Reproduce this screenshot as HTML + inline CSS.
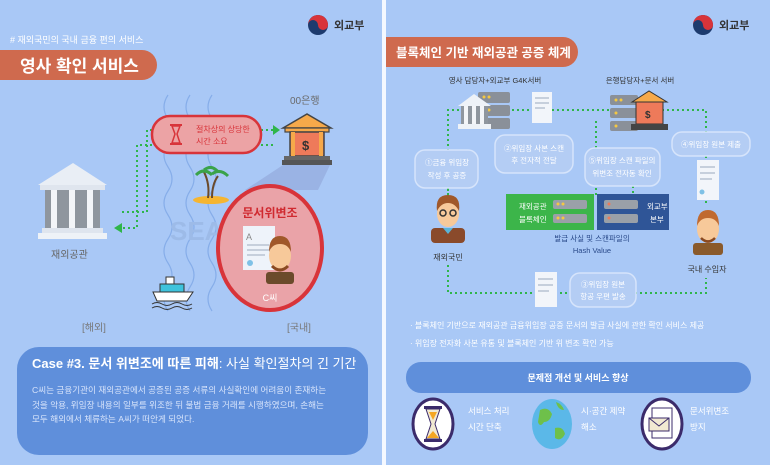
<!DOCTYPE html>
<html><head><meta charset="utf-8"><style>
html,body{margin:0;padding:0;background:#a9c8f6;}
svg{display:block}
text{font-family:"Liberation Sans","Noto Sans CJK KR",sans-serif;}
</style></head><body>
<svg width="770" height="465" viewBox="0 0 770 465" xmlns="http://www.w3.org/2000/svg">
<rect width="770" height="465" fill="#a9c8f6"/>
<rect x="382" y="0" width="4" height="465" fill="#f4f8ff"/>

<!-- ===== LEFT PANEL ===== -->
<g>
<circle cx="318" cy="25" r="10" fill="#1d3b6e"/>
<path d="M308,25 a10,10 0 0 1 20,0 a5,5 0 0 1 -10,0 a5,5 0 0 0 -10,0z" fill="#d8343a"/>
<text x="334" y="29" font-size="11" fill="#333" font-weight="bold">외교부</text>
</g>
<text x="10" y="43" font-size="9" fill="#fff">#  재외국민의 국내 금융 편의 서비스</text>
<path d="M0,50 H142 a15,15 0 0 1 0,30 H0z" fill="#cf6a4e"/>
<text x="20" y="72" font-size="17" fill="#fff" font-weight="bold">영사 확인 서비스</text>

<g fill="none" stroke="#7ea7e6" stroke-width="1.2" opacity="0.8">
<path d="M168,95 q-8,12 0,24 q8,12 0,24 q-8,12 0,24 q8,12 0,24 q-8,12 0,24 q8,12 0,24 q-8,12 0,24 q8,12 0,24 q-8,12 0,24"/>
<path d="M190,95 q-8,12 0,24 q8,12 0,24 q-8,12 0,24 q8,12 0,24 q-8,12 0,24 q8,12 0,24 q-8,12 0,24 q8,12 0,24 q-8,12 0,24"/>
<path d="M212,95 q-8,12 0,24 q8,12 0,24 q-8,12 0,24 q8,12 0,24 q-8,12 0,24 q8,12 0,24 q-8,12 0,24 q8,12 0,24 q-8,12 0,24"/>
</g>
<text x="170" y="240" font-size="26" fill="#9dbbe8" font-weight="bold">SEA</text>

<g fill="none" stroke="#2fb54a" stroke-width="2" stroke-dasharray="2,3">
<path d="M152,130 H147 V212 H120"/>
<path d="M152,145 H137 V228 H122"/>
<path d="M261,130 H274"/>
<path d="M261,145 H275"/>
</g>
<path d="M114,228 l8,-5 v10z" fill="#2fb54a"/>
<path d="M280,130 l-7,-5 v10z" fill="#2fb54a"/>

<rect x="152" y="116" width="109" height="37" rx="18" fill="#eca3a5" stroke="#d8343a" stroke-width="2.5"/>
<g fill="#d8343a"><rect x="170" y="124" width="12" height="2"/><rect x="170" y="143" width="12" height="2"/>
<path d="M172,126 h8 l-3,8 l3,9 h-8 l3,-9z" fill="none" stroke="#d8343a" stroke-width="1.5"/></g>
<text x="196" y="132" font-size="8" fill="#d8343a">절차상의 상당한</text>
<text x="196" y="144" font-size="8" fill="#d8343a">시간 소요</text>

<text x="290" y="104" font-size="10" fill="#6a6a6a">00은행</text>
<path d="M283,128 L307,114 L331,128z" fill="#f6a94a" stroke="#444" stroke-width="1.5"/>
<rect x="285" y="128" width="44" height="4" fill="#f6a94a" stroke="#444" stroke-width="1.2"/>
<rect x="290" y="132" width="34" height="24" fill="#ee7a5a" stroke="#444" stroke-width="1.5"/>
<rect x="291" y="132" width="4" height="24" fill="#f6a94a"/><rect x="319" y="132" width="4" height="24" fill="#f6a94a"/>
<text x="302" y="150" font-size="13" fill="#333" font-weight="bold">$</text>
<rect x="284" y="156" width="46" height="4" fill="#666"/><rect x="282" y="160" width="50" height="5" fill="#555"/>
<path d="M283,165 L330,165 L318,190 L245,190z" fill="#8ea2d6" opacity="0.55"/>

<path d="M38,185 L73,163 L107,185z" fill="#e9eef5"/>
<rect x="40" y="185" width="65" height="5" fill="#dfe5ee"/>
<rect x="45" y="190" width="55" height="38" fill="#8f969e"/>
<g fill="#f3f5f8"><rect x="51" y="190" width="6" height="38"/><rect x="69" y="190" width="6" height="38"/><rect x="87" y="190" width="6" height="38"/></g>
<rect x="42" y="228" width="61" height="5" fill="#dfe5ee"/><rect x="38" y="233" width="69" height="6" fill="#eef2f7"/>
<text x="51" y="258" font-size="10" fill="#666">재외공관</text>

<ellipse cx="211" cy="200" rx="18" ry="4" fill="#f5b531"/>
<path d="M208,198 q2,-14 -4,-26 M212,198 q0,-14 6,-22" stroke="#6b4a2b" stroke-width="2" fill="none"/>
<path d="M196,175 q8,-8 16,0 M204,170 q8,-6 14,2 M212,174 q8,-6 16,2" stroke="#3aa34a" stroke-width="3" fill="none"/>

<path d="M153,292 h40 l-6,9 h-30z" fill="#fff" stroke="#333" stroke-width="1"/>
<rect x="160" y="284" width="24" height="8" fill="#3ec3dc" stroke="#333" stroke-width="1"/>
<rect x="166" y="277" width="8" height="7" fill="#fff" stroke="#333" stroke-width="1"/>
<path d="M152,304 q5,-3 10,0 t10,0 t10,0 t10,0 M152,308 q5,-3 10,0 t10,0 t10,0 t10,0" stroke="#333" fill="none" stroke-width="1"/>

<ellipse cx="270" cy="248" rx="52" ry="62" fill="#eaa3a8" stroke="#d8343a" stroke-width="4"/>
<text x="270" y="217" font-size="12" fill="#d02a30" font-weight="bold" text-anchor="middle">문서위변조</text>
<rect x="243" y="226" width="32" height="44" fill="#eef3fa"/>
<text x="246" y="240" font-size="9" fill="#888">A</text>
<g fill="#c6cfdc"><rect x="247" y="244" width="22" height="2"/><rect x="247" y="249" width="22" height="2"/><rect x="247" y="254" width="18" height="2"/></g>
<circle cx="250" cy="263" r="3" fill="#7fc1e6"/>
<rect x="266" y="272" width="28" height="12" rx="3" fill="#6b4a2b"/>
<ellipse cx="280" cy="256" rx="11" ry="14" fill="#f7c99a"/>
<path d="M269,252 q0,-16 11,-16 q11,0 11,16 q-3,-8 -11,-8 q-8,0 -11,8z" fill="#a0582a"/>
<path d="M272,266 q8,8 16,0" stroke="#8a4a22" stroke-width="3" fill="none"/>
<text x="270" y="301" font-size="9" fill="#fff" text-anchor="middle">C씨</text>

<text x="82" y="331" font-size="10" fill="#777">[해외]</text>
<text x="287" y="331" font-size="10" fill="#777">[국내]</text>

<rect x="17" y="347" width="351" height="108" rx="22" fill="#5f8fdb"/>
<text x="32" y="368" font-size="13" fill="#fff" font-weight="bold">Case #3. 문서 위변조에 따른 피해<tspan font-weight="normal">: 사실 확인절차의 긴 기간</tspan></text>
<text x="32" y="393" font-size="8.6" fill="#d8e4fb">C씨는 금융기관이 재외공관에서 공증된 공증 서류의 사실확인에 어려움이 존재하는</text>
<text x="32" y="408" font-size="8.6" fill="#d8e4fb">것을 악용, 위임장 내용의 일부를 위조한 뒤 불법 금융 거래를 시행하였으며, 손해는</text>
<text x="32" y="422" font-size="8.6" fill="#d8e4fb">모두 해외에서 체류하는 A씨가 떠안게 되었다.</text>

<!-- ===== RIGHT PANEL ===== -->
<g>
<circle cx="703" cy="25" r="10" fill="#1d3b6e"/>
<path d="M693,25 a10,10 0 0 1 20,0 a5,5 0 0 1 -10,0 a5,5 0 0 0 -10,0z" fill="#d8343a"/>
<text x="719" y="29" font-size="11" fill="#333" font-weight="bold">외교부</text>
</g>
<path d="M386,37 H563 a15,15 0 0 1 0,30 H386z" fill="#cf6a4e"/>
<text x="396" y="57" font-size="12.5" fill="#fff" font-weight="bold">블록체인 기반 재외공관 공증 체계</text>

<text x="495" y="83" font-size="7.5" fill="#333" text-anchor="middle">영사 담당자+외교부 G4K서버</text>
<text x="640" y="83" font-size="7.5" fill="#333" text-anchor="middle">은행담당자+문서 서버</text>

<g fill="none" stroke="#2fb54a" stroke-width="2" stroke-dasharray="2,3">
<path d="M448,196 V110 H706 V205"/>
<path d="M448,265 V293 H706 V278"/>
<path d="M448,188 V200"/>
<path d="M596,173 V195"/>
<path d="M595,122 H596 V148" />
<path d="M633,186 V195"/>
<path d="M706,255 V240"/>
</g>

<g>
<rect x="478" y="92" width="32" height="11" rx="2" fill="#8a9099"/><rect x="478" y="105" width="32" height="11" rx="2" fill="#8a9099"/><rect x="478" y="118" width="32" height="11" rx="2" fill="#8a9099"/>
<g fill="#f5c842"><circle cx="484" cy="97" r="1.5"/><circle cx="489" cy="97" r="1.5"/><circle cx="484" cy="110" r="1.5"/><circle cx="489" cy="110" r="1.5"/><circle cx="484" cy="123" r="1.5"/></g>
<path d="M458,106 L474,94 L491,106z" fill="#eef2f7"/>
<rect x="461" y="106" width="27" height="18" fill="#8f969e"/>
<g fill="#f3f5f8"><rect x="464" y="106" width="4" height="18"/><rect x="472" y="106" width="4" height="18"/><rect x="480" y="106" width="4" height="18"/></g>
<rect x="458" y="124" width="33" height="5" fill="#eef2f7"/>
</g>
<rect x="532" y="92" width="20" height="31" fill="#f2f5fa"/><g fill="#c6cfdc"><rect x="535" y="97" width="14" height="2"/><rect x="535" y="102" width="14" height="2"/><rect x="535" y="107" width="10" height="2"/></g>
<g>
<rect x="610" y="95" width="28" height="10" rx="2" fill="#8a9099"/><rect x="610" y="108" width="28" height="10" rx="2" fill="#8a9099"/><rect x="610" y="121" width="28" height="10" rx="2" fill="#8a9099"/>
<g fill="#f5c842"><circle cx="616" cy="100" r="1.5"/><circle cx="621" cy="100" r="1.5"/><circle cx="616" cy="113" r="1.5"/><circle cx="616" cy="126" r="1.5"/></g>
<path d="M632,102 L649,91 L667,102z" fill="#f6a94a" stroke="#333"/>
<rect x="636" y="102" width="27" height="22" fill="#ee7a5a" stroke="#333"/>
<text x="645" y="118" font-size="10" fill="#333" font-weight="bold">$</text>
<rect x="631" y="124" width="37" height="6" fill="#444"/>
</g>

<g fill="#b4cdf4" stroke="#d6e4fb" stroke-width="1.5">
<rect x="415" y="150" width="63" height="38" rx="10"/>
<rect x="495" y="135" width="78" height="38" rx="10"/>
<rect x="585" y="148" width="75" height="38" rx="10"/>
<rect x="672" y="132" width="78" height="24" rx="10"/>
<rect x="570" y="273" width="66" height="34" rx="10"/>
</g>
<g font-size="7.5" fill="#fff" text-anchor="middle">
<text x="447" y="165">①금융 위임장</text><text x="447" y="178">작성 후 공증</text>
<text x="534" y="151">②위임장 사본 스캔</text><text x="534" y="163">후 전자적 전달</text>
<text x="622" y="163">⑤위임장 스캔 파일의</text><text x="622" y="176">위변조 전자동 확인</text>
<text x="711" y="147">④위임장 원본 제출</text>
<text x="603" y="287">③위임장 원본</text><text x="603" y="299">항공 우편 발송</text>
</g>

<rect x="506" y="194" width="88" height="36" fill="#3cb54a"/>
<text x="519" y="209" font-size="7.5" fill="#fff">재외공관</text><text x="519" y="222" font-size="7.5" fill="#fff">블록체인</text>
<rect x="553" y="200" width="34" height="9" rx="2" fill="#9aa0a8"/><rect x="553" y="214" width="34" height="9" rx="2" fill="#9aa0a8"/>
<g fill="#f5c842"><circle cx="558" cy="204" r="1.5"/><circle cx="563" cy="204" r="1.5"/><circle cx="558" cy="218" r="1.5"/><circle cx="563" cy="218" r="1.5"/></g>
<rect x="597" y="194" width="72" height="36" fill="#2f5597"/>
<rect x="604" y="200" width="34" height="9" rx="2" fill="#9aa0a8"/><rect x="604" y="214" width="34" height="9" rx="2" fill="#9aa0a8"/>
<g fill="#ee7a5a"><circle cx="609" cy="204" r="1.5"/><circle cx="609" cy="218" r="1.5"/></g>
<text x="647" y="209" font-size="7.5" fill="#fff">외교부</text><text x="650" y="222" font-size="7.5" fill="#fff">본부</text>
<text x="592" y="241" font-size="7.5" fill="#2a4a8a" text-anchor="middle">발급 사실 및 스캔파일의</text>
<text x="592" y="253" font-size="7.5" fill="#2a4a8a" text-anchor="middle">Hash Value</text>

<rect x="431" y="228" width="34" height="15" rx="4" fill="#8a4a2b"/>
<path d="M443,228 l5,6 l5,-6z" fill="#5ab4d8"/>
<ellipse cx="448" cy="214" rx="11" ry="13" fill="#f7c99a"/>
<path d="M437,211 q-2,-16 11,-16 q13,0 11,16 q-4,-8 -11,-8 q-7,0 -11,8z" fill="#a0582a"/>
<g fill="none" stroke="#333" stroke-width="1.5"><circle cx="443" cy="213" r="3"/><circle cx="453" cy="213" r="3"/></g>
<text x="448" y="260" font-size="8" fill="#333" text-anchor="middle">재외국민</text>

<rect x="697" y="160" width="22" height="40" fill="#f2f5fa"/><g fill="#c6cfdc"><rect x="700" y="166" width="15" height="2"/><rect x="700" y="172" width="15" height="2"/><rect x="700" y="178" width="12" height="2"/></g>
<circle cx="702" cy="192" r="2.5" fill="#7fc1e6"/>
<rect x="693" y="243" width="30" height="12" rx="3" fill="#8a5a2b"/>
<ellipse cx="708" cy="229" rx="11" ry="14" fill="#f7c99a"/>
<path d="M697,226 q0,-16 11,-16 q11,0 11,16 q-3,-8 -11,-8 q-8,0 -11,8z" fill="#c06a30"/>
<path d="M701,238 q7,7 14,0" stroke="#8a4a22" stroke-width="2.5" fill="none"/>
<text x="707" y="272" font-size="8" fill="#333" text-anchor="middle">국내 수입자</text>

<rect x="535" y="272" width="22" height="35" fill="#f2f5fa"/><g fill="#c6cfdc"><rect x="538" y="278" width="15" height="2"/><rect x="538" y="284" width="15" height="2"/><rect x="538" y="290" width="11" height="2"/></g>

<text x="410" y="328" font-size="8" fill="#fff">· 블록체인 기반으로 재외공관 금융위임장 공증 문서의 발급 사실에 관한 확인 서비스 제공</text>
<text x="410" y="346" font-size="8" fill="#fff">· 위임장 전자화 사본 유통 및 블록체인 기반 위 변조 확인 가능</text>

<rect x="406" y="362" width="345" height="31" rx="15" fill="#5f8fdb"/>
<text x="578" y="381" font-size="9" fill="#fff" text-anchor="middle" font-weight="bold">문제점 개선 및 서비스 향상</text>

<ellipse cx="433" cy="424" rx="20" ry="25" fill="#fff" stroke="#3b2b6b" stroke-width="3"/>
<rect x="424" y="406" width="18" height="3" fill="#3b2b6b"/><rect x="424" y="439" width="18" height="3" fill="#3b2b6b"/>
<path d="M426,409 h14 l-5,15 l5,15 h-14 l5,-15z" fill="#f1e9d2" stroke="#3b2b6b"/>
<path d="M429,412 h8 l-4,8z M427,438 l6,-7 l6,7z" fill="#f5a623"/>
<text x="468" y="414" font-size="8.5" fill="#fff">서비스 처리</text><text x="468" y="430" font-size="8.5" fill="#fff">시간 단축</text>

<ellipse cx="552" cy="424" rx="20" ry="25" fill="#5bb8e8"/>
<path d="M540,410 q8,-4 12,4 q-2,8 -8,8 q-4,6 -6,0z M555,428 q8,-2 10,6 q-4,8 -10,4z M556,402 q6,2 8,8 q-6,0 -8,-8z" fill="#6ec04a"/>
<text x="581" y="414" font-size="8.5" fill="#fff">시·공간 제약</text><text x="581" y="430" font-size="8.5" fill="#fff">해소</text>

<ellipse cx="662" cy="424" rx="20" ry="25" fill="#fff" stroke="#3b2b6b" stroke-width="3"/>
<rect x="652" y="408" width="20" height="30" fill="#fff" stroke="#3b2b6b"/>
<rect x="649" y="418" width="20" height="13" fill="#f1e9d2" stroke="#3b2b6b"/>
<path d="M649,418 l10,8 l10,-8" fill="none" stroke="#3b2b6b"/>
<text x="690" y="414" font-size="8.5" fill="#fff">문서위변조</text><text x="690" y="430" font-size="8.5" fill="#fff">방지</text>
</svg>
</body></html>
